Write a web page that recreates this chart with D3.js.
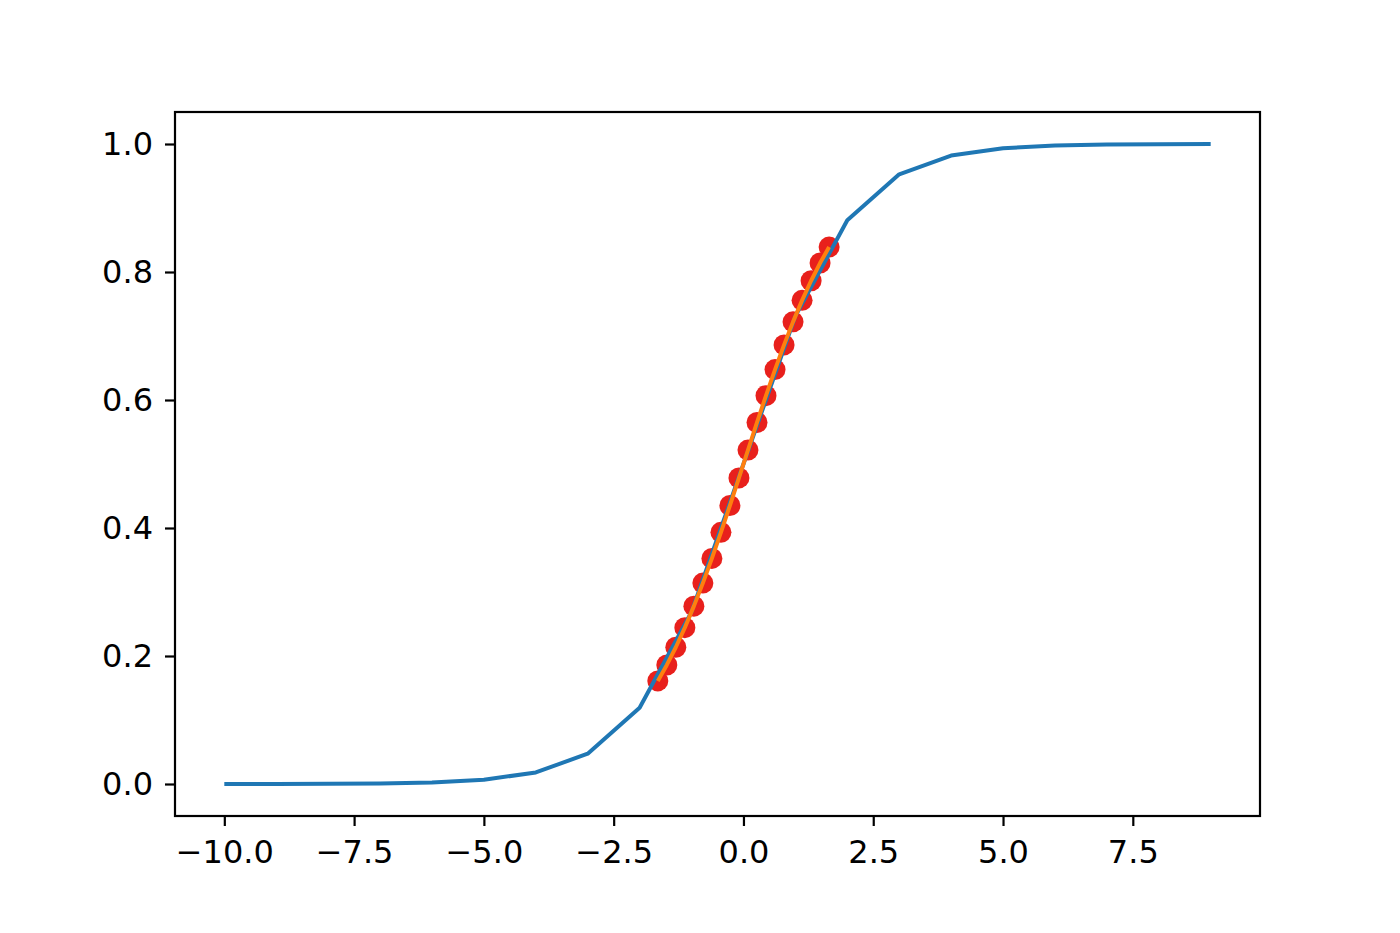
<!DOCTYPE html>
<meta charset="utf-8">
<style>
body {margin: 0; background: #fff;}
.tick text {font: 32px "DejaVu Sans", sans-serif; fill: #000;}
</style>
<body>
<script src="https://d3js.org/d3.v7.min.js"></script>
<div id="chart"></div>
</body>
<script>
// sigmoid sampled at the integers (blue line)
var curveX = [-10, -9, -8, -7, -6, -5, -4, -3, -2, -1, 0, 1, 2, 3, 4, 5, 6, 7, 8, 9];
var curveY = [0.0000454, 0.000123, 0.000335, 0.000911, 0.002473, 0.006693, 0.017986, 0.047426,
              0.119203, 0.268941, 0.5, 0.731059, 0.880797, 0.952574, 0.982014, 0.993307,
              0.997527, 0.999089, 0.999665, 0.999877];

// fitted points (red dots + orange line)
var fitX = [-1.650, -1.476, -1.303, -1.129, -0.955, -0.782, -0.608, -0.434, -0.261, -0.087,
            0.087, 0.261, 0.434, 0.608, 0.782, 0.955, 1.129, 1.303, 1.476, 1.650];
var fitY = [0.1611, 0.1860, 0.2137, 0.2443, 0.2779, 0.3139, 0.3525, 0.3932, 0.4351, 0.4783,
            0.5217, 0.5649, 0.6068, 0.6475, 0.6861, 0.7221, 0.7557, 0.7863, 0.8140, 0.8389];

var xTicks = [-10, -7.5, -5, -2.5, 0, 2.5, 5, 7.5];
var yTicks = [0, 0.2, 0.4, 0.6, 0.8, 1.0];

var width = 1400, height = 933;
var m = {left: 175, right: 1260, top: 112, bottom: 816};

var x = d3.scaleLinear().domain([-10.95, 9.95]).range([m.left, m.right]);
var y = d3.scaleLinear().domain([-0.05, 1.05]).range([m.bottom, m.top]);

var svg = d3.select("#chart").append("svg")
    .attr("width", width)
    .attr("height", height);

svg.append("rect")
    .attr("width", width).attr("height", height)
    .attr("fill", "#fff");

var curve = curveX.map(function(d, i) { return [d, curveY[i]]; });
var fit = fitX.map(function(d, i) { return [d, fitY[i]]; });

var line = d3.line()
    .x(function(d) { return x(d[0]); })
    .y(function(d) { return y(d[1]); });

// dots under the lines, like matplotlib zorder
svg.append("g").selectAll("circle")
    .data(fit)
    .enter().append("circle")
    .attr("cx", function(d) { return x(d[0]); })
    .attr("cy", function(d) { return y(d[1]); })
    .attr("r", 10.5)
    .attr("fill", "#e8201c");

svg.append("path")
    .datum(curve)
    .attr("d", line)
    .attr("fill", "none")
    .attr("stroke", "#1f77b4")
    .attr("stroke-width", 4)
    .attr("stroke-linejoin", "round");

svg.append("path")
    .datum(fit)
    .attr("d", line)
    .attr("fill", "none")
    .attr("stroke", "#ff7f0e")
    .attr("stroke-width", 4)
    .attr("stroke-linejoin", "round");

// axes
var fmt = d3.format(".1f");
svg.append("g")
    .attr("transform", "translate(0," + m.bottom + ")")
    .call(d3.axisBottom(x).tickValues(xTicks).tickFormat(fmt).tickSize(10).tickPadding(14));
svg.append("g")
    .attr("transform", "translate(" + m.left + ",0)")
    .call(d3.axisLeft(y).tickValues(yTicks).tickFormat(fmt).tickSize(10).tickPadding(12));

svg.selectAll(".domain").remove();
svg.selectAll(".tick line").attr("stroke", "#000").attr("stroke-width", 2.2);

svg.append("rect")
    .attr("x", m.left).attr("y", m.top)
    .attr("width", m.right - m.left).attr("height", m.bottom - m.top)
    .attr("fill", "none")
    .attr("stroke", "#000")
    .attr("stroke-width", 2.2);
</script>
